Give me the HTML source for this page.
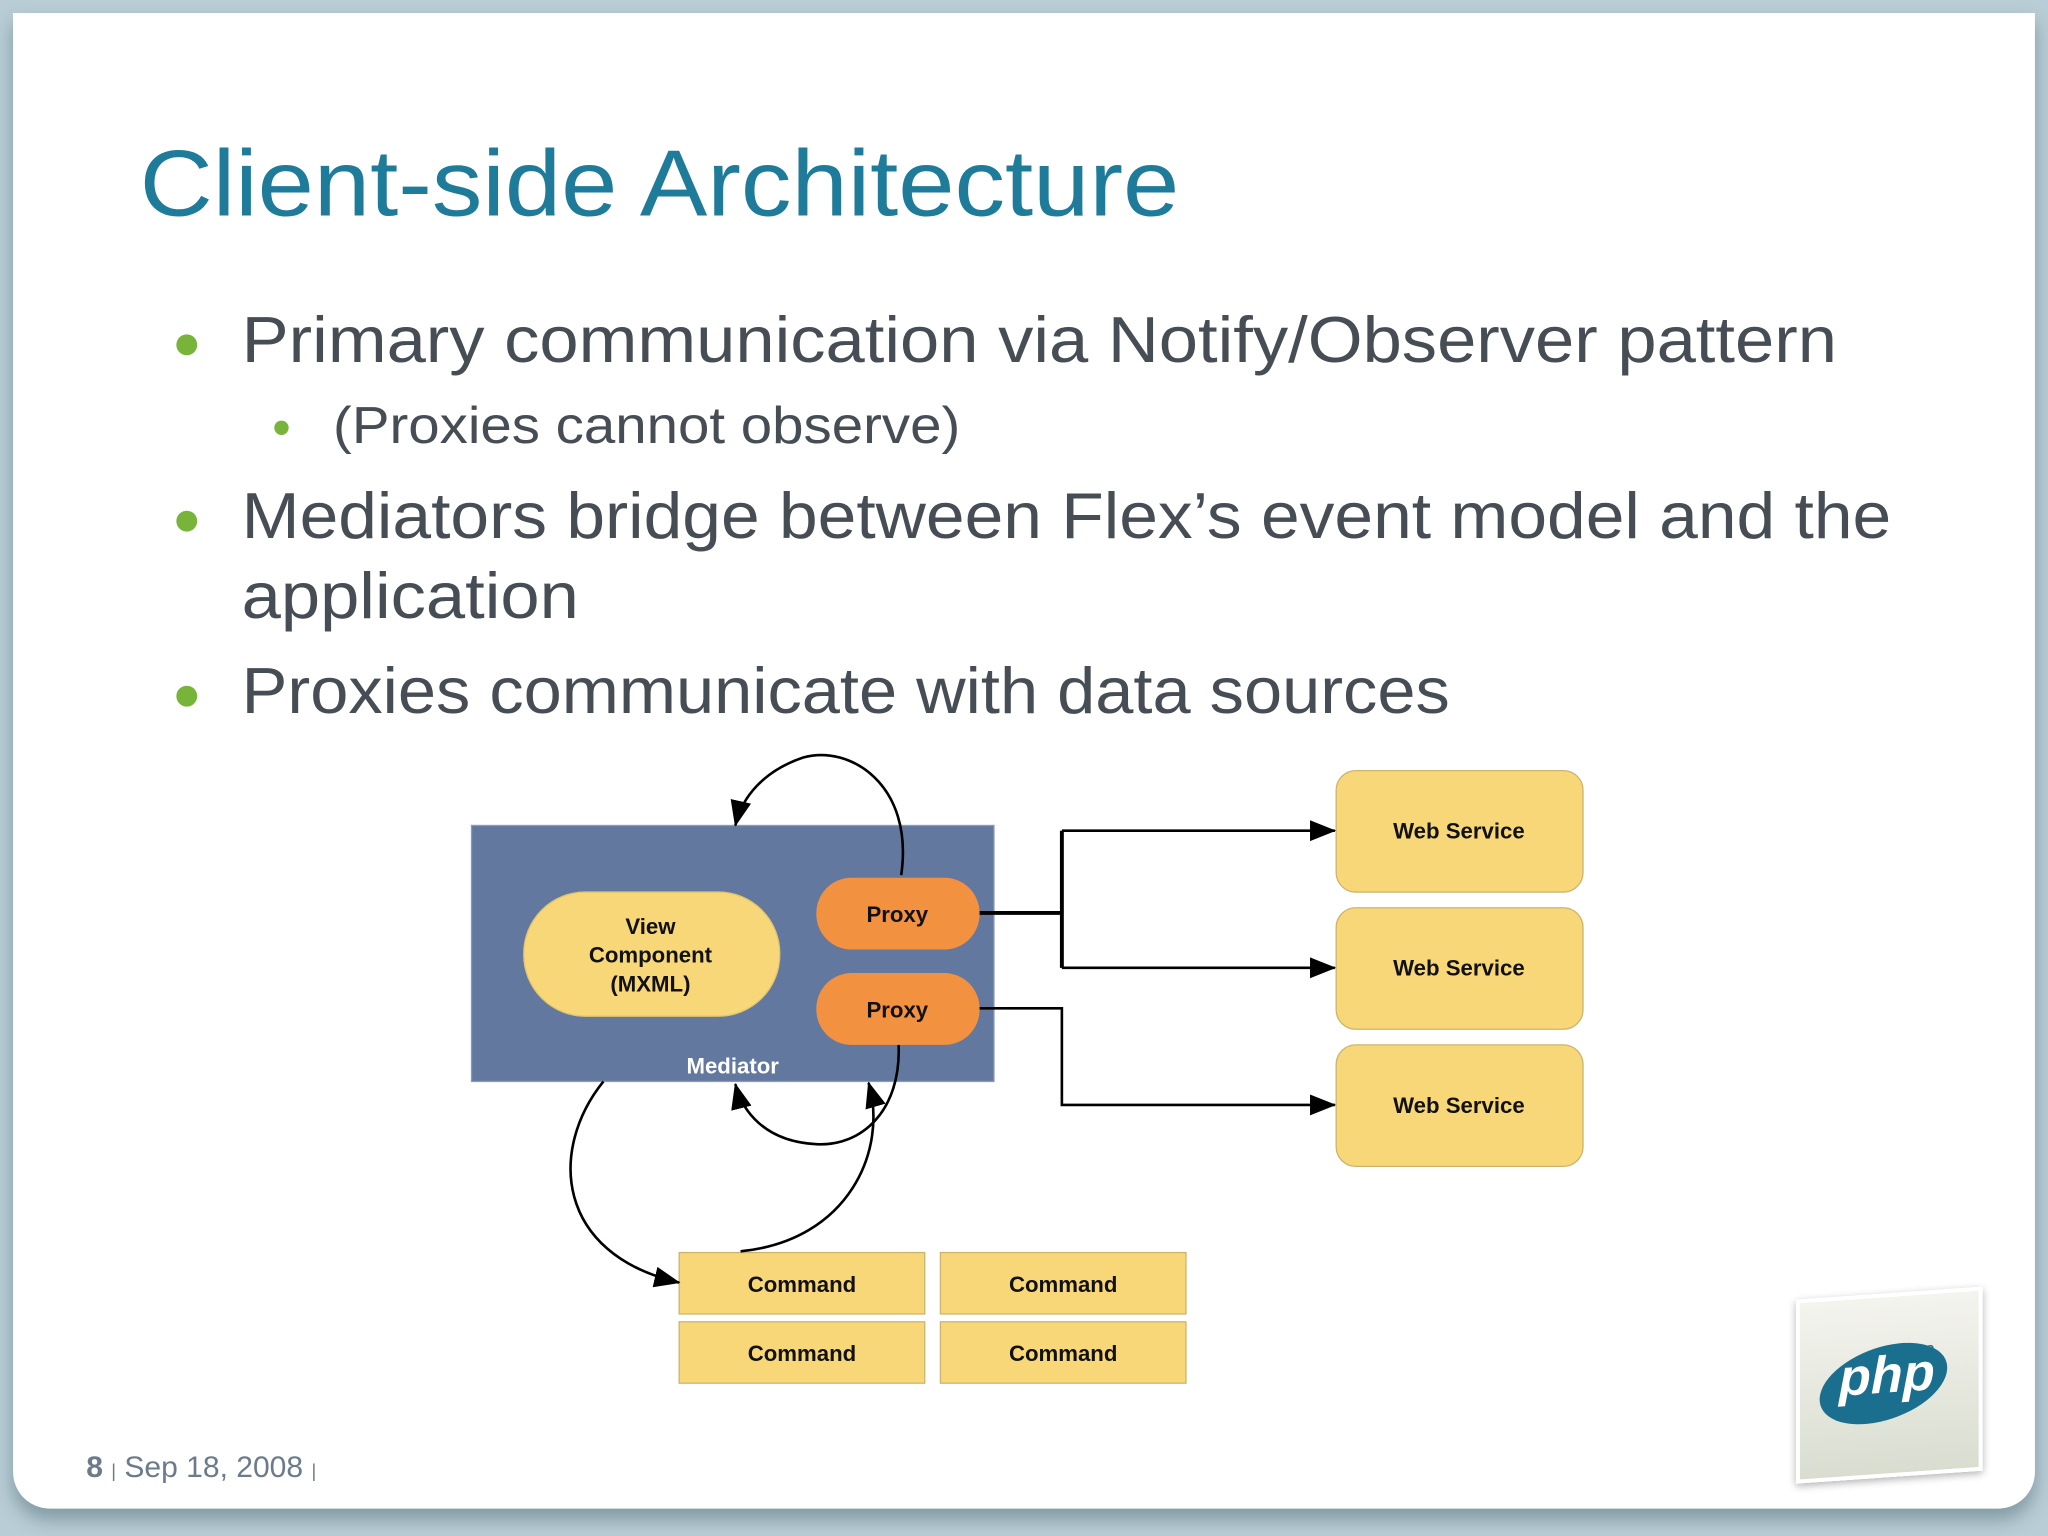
<!DOCTYPE html>
<html><head><meta charset="utf-8"><style>
html,body{margin:0;padding:0;width:2048px;height:1536px;overflow:hidden;background:#b9cdd6;}
#s{position:absolute;left:0;top:0;width:1568px;height:1176px;transform:scale(1.30612);transform-origin:0 0;font-family:"Liberation Sans","DejaVu Sans",sans-serif;}
#card{position:absolute;left:10px;top:10px;width:1548px;height:1145px;background:#fff;border-radius:0 0 28px 28px;box-shadow:0 8px 14px rgba(60,90,100,.45);}
.t{position:absolute;white-space:nowrap;}
.w{transform:scaleX(1.08);transform-origin:0 0;}
.dot{position:absolute;border-radius:50%;background:#79b43a;}
</style></head><body><div id="s">
<div id="card"></div>
<div class="t w" style="left:107px;top:100px;font-size:72px;color:#1e7b9a;transform:scaleX(1.075)">Client-side Architecture</div>
<div class="dot" style="left:135px;top:256px;width:16px;height:16px"></div>
<div class="t w" style="left:185px;top:231px;font-size:50px;color:#474d54;">Primary communication via Notify/Observer pattern</div>
<div class="dot" style="left:210px;top:322px;width:11px;height:11px"></div>
<div class="t w" style="left:255px;top:304px;font-size:40px;color:#474d54;">(Proxies cannot observe)</div>
<div class="dot" style="left:135px;top:391px;width:16px;height:16px"></div>
<div class="t w" style="left:185px;top:366px;font-size:50px;color:#474d54;transform:scaleX(1.065)">Mediators bridge between Flex’s event model and the</div>
<div class="t w" style="left:185px;top:427px;font-size:50px;color:#474d54;">application</div>
<div class="dot" style="left:135px;top:525px;width:16px;height:16px"></div>
<div class="t w" style="left:185px;top:500px;font-size:50px;color:#474d54;transform:scaleX(1.05)">Proxies communicate with data sources</div>

<svg style="position:absolute;left:0;top:0" width="1568" height="1176" font-family="Liberation Sans, sans-serif" font-weight="bold">
<defs><marker id="b" markerWidth="20" markerHeight="20" refX="19" refY="10" orient="auto" markerUnits="userSpaceOnUse" viewBox="0 0 20 20"><path d="M0,2L20,10L0,18z" fill="#000"/></marker></defs>
<rect x="361" y="632" width="400" height="196" fill="#63789f" stroke="#8a9bb8"/>
<text x="561" y="822" fill="#fff" font-size="17" text-anchor="middle">Mediator</text>
<rect x="401" y="683" width="196" height="95" rx="47" fill="#f8d778" stroke="#e3c46a"/>
<text font-size="17" text-anchor="middle" fill="#111"><tspan x="498" y="715">View</tspan><tspan x="498" y="737">Component</tspan><tspan x="498" y="759">(MXML)</tspan></text>
<rect x="625" y="672" width="125" height="55" rx="27" fill="#f29140"/>
<rect x="625" y="745" width="125" height="55" rx="27" fill="#f29140"/>
<text x="687" y="706" font-size="17" text-anchor="middle" fill="#111">Proxy</text>
<text x="687" y="779" font-size="17" text-anchor="middle" fill="#111">Proxy</text>
<g fill="#f8d778" stroke="#cdb46e">
<rect x="1023" y="590" width="189" height="93" rx="15"/>
<rect x="1023" y="695" width="189" height="93" rx="15"/>
<rect x="1023" y="800" width="189" height="93" rx="15"/>
<rect x="520" y="959" width="188" height="47"/><rect x="720" y="959" width="188" height="47"/>
<rect x="520" y="1012" width="188" height="47"/><rect x="720" y="1012" width="188" height="47"/>
</g>
<g font-size="17" text-anchor="middle" fill="#111">
<text x="1117" y="642">Web Service</text><text x="1117" y="747">Web Service</text><text x="1117" y="852">Web Service</text>
<text x="614" y="989">Command</text><text x="814" y="989">Command</text>
<text x="614" y="1042">Command</text><text x="814" y="1042">Command</text>
</g>
<g fill="none" stroke="#000" stroke-width="2">
<path d="M750,699H813M813,636V741" stroke-width="3"/>
<path d="M813,636H1022" marker-end="url(#b)"/>
<path d="M813,741H1022" marker-end="url(#b)"/>
<path d="M750,772H813V846H1022" marker-end="url(#b)"/>
<path d="M690,670C700,600 650,570 615,580C585,590 568,610 563,632" marker-end="url(#b)"/>
<path d="M688,800C690,850 660,878 625,876C585,874 568,850 563,830" marker-end="url(#b)"/>
<path d="M462,828C420,880 425,960 520,982" marker-end="url(#b)"/>
<path d="M567,958C650,950 680,880 665,829" marker-end="url(#b)"/>
</g>
</svg>

<div style="position:absolute;left:1375px;top:990px;width:137px;height:135px;background:linear-gradient(#f4f4ee,#d9ddd0);border:3px solid #fff;box-shadow:0 2px 6px rgba(0,0,0,.3);transform:skewY(-4deg);">
<div style="position:absolute;left:14px;top:38px;width:100px;height:56px;border-radius:50%;background:#1a6e8e;transform:rotate(-15deg)"></div>
<div class="t" style="left:30px;top:38px;font-size:40px;font-style:italic;font-weight:bold;color:#fff;">php</div>
<div class="t" style="left:88px;top:36px;font-size:13px;font-style:italic;color:#1a6e8e;">08</div>
</div>
<div class="t" style="left:66px;top:1110px;font-size:23px;color:#6b7b8c;"><b>8</b> <span style="font-size:14px">|</span> Sep 18, 2008 <span style="font-size:14px">|</span></div>
</div></body></html>
